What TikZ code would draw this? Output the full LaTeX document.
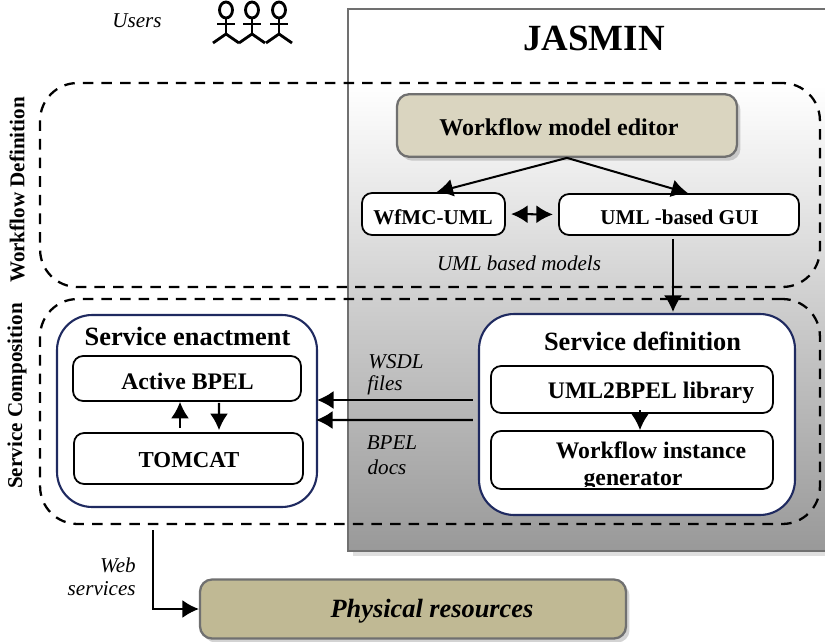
\documentclass[tikz,border=0pt]{standalone}
\usepackage{fontspec}
\setmainfont{Liberation Serif}
\usetikzlibrary{arrows.meta,calc,shadows}
\tikzset{>={Latex[length=3.3mm,width=3.6mm]}}
\definecolor{panelline}{HTML}{707070}
\definecolor{navyline}{HTML}{1F2A60}
\definecolor{editorfill}{HTML}{DAD5C0}
\definecolor{resourcefill}{HTML}{C0B994}
\pgfdeclareverticalshading{panelshade}{100bp}{rgb(0bp)=(0.60,0.60,0.60); rgb(25bp)=(0.60,0.60,0.60); rgb(48bp)=(0.81,0.81,0.81); rgb(58bp)=(0.91,0.91,0.91); rgb(68bp)=(1,1,1); rgb(100bp)=(1,1,1)}
\tikzstyle{panel}=[rectangle,draw=panelline,line width=1.6pt,shade,shading=panelshade,drop shadow={shadow xshift=0.1cm,shadow yshift=-0.1cm,opacity=0.25}]
\tikzstyle{layer}=[rectangle,draw=black,line width=1.3pt,dash pattern=on 6pt off 4.6pt,rounded corners=0.75cm]
\tikzstyle{service}=[rectangle,draw=navyline,fill=white,line width=1.2pt,rounded corners=0.7cm]
\tikzstyle{tool}=[rectangle,draw=panelline,line width=1.3pt,rounded corners=0.24cm,text=black,drop shadow={shadow xshift=0.07cm,shadow yshift=-0.08cm,opacity=0.35}]
\tikzstyle{module}=[rectangle,draw=black,fill=white,line width=1pt,rounded corners=0.2cm]
\tikzstyle{link}=[line width=1.15pt,->]
\tikzstyle{title}=[inner sep=0pt,font=\fontsize{15}{17}\selectfont\bfseries]
\tikzstyle{boxtext}=[inner sep=0pt,font=\fontsize{13.5}{15}\selectfont\bfseries]
\tikzstyle{smalltext}=[inner sep=0pt,font=\fontsize{12}{14}\selectfont\bfseries]
\tikzstyle{note}=[inner sep=0pt,font=\fontsize{12}{14}\selectfont\itshape]
\tikzstyle{side}=[inner sep=0pt,rotate=90,font=\fontsize{12}{14}\selectfont\bfseries]
\tikzstyle{figure}=[line width=1.6pt]
\begin{document}
\begin{tikzpicture}[x=0.02cm,y=-0.02cm]
\useasboundingbox (0,0) rectangle (825,642);

% panel on the right
\node[panel,minimum width=9.6cm,minimum height=10.84cm] (jasminbox) at (588,280) {};
\node[inner sep=0pt,font=\fontsize{21}{23}\selectfont\bfseries] (jasmin) at (594,38) {JASMIN};

% users
\node[note] (users) at (137,21) {Users};
\foreach \i in {226,252,279} {
	\draw[figure] (\i,10) ellipse (6.5 and 8);
	\draw[figure] (\i,18) -- (\i,34);
	\draw[figure] (\i-9,24) -- (\i+9,24);
	\draw[figure] (\i-13,43) -- (\i,34) -- (\i+13,43);
};

% the two dashed layers
\node[layer,minimum width=15.6cm,minimum height=4.08cm] (definition) at (430,185) {};
\node[layer,minimum width=15.6cm,minimum height=4.5cm] (composition) at (430,411.5) {};
\node[side] (definitionlabel) at (17,190) {Workflow Definition};
\node[side] (compositionlabel) at (17,396) {Service Composition};

% workflow definition
\node[tool,fill=editorfill,minimum width=6.8cm,minimum height=1.25cm] (editor) at (567,125.5) {};
\node[inner sep=0pt,font=\fontsize{13.7}{16}\selectfont\bfseries] (editortext) at (559,127) {Workflow model editor};
\node[module,minimum width=2.86cm,minimum height=0.84cm] (wfmc) at (433.5,214) {};
\node[smalltext] (wfmctext) at (433,217) {WfMC-UML};
\node[module,minimum width=4.8cm,minimum height=0.82cm] (gui) at (679,214.5) {};
\node[smalltext] (guitext) at (679.5,217) {UML -based GUI};
\node[note] (models) at (519,263) {UML based models};
\draw[link] (editor.south) -- ([shift={(3,0)}]wfmc.north);
\draw[link] (editor.south) -- ([shift={(9,0)}]gui.north);
\draw[link,<->,shorten <=3pt,shorten >=3pt] (wfmc.east) -- (gui.west);

% service definition
\node[service,minimum width=6.32cm,minimum height=4.02cm] (servdef) at (637,414.5) {};
\node[title] (servdeftitle) at (642.5,341) {Service definition};
\node[module,minimum width=5.64cm,minimum height=0.94cm] (library) at (632,389.5) {};
\node[boxtext] (librarytext) at (651,393) {UML2BPEL library};
\node[module,minimum width=5.64cm,minimum height=1.16cm] (generator) at (632,460) {};
\node[boxtext] (generatortext) at (651,450) {Workflow instance};
\begin{scope}
	\clip (491,431) rectangle (773,486);
	\node[boxtext] (generatortexttwo) at (633,481) {generator};
\end{scope}
\draw[link,shorten <=-2pt] ([shift={(8,0)}]library.south) -- ([shift={(8,0)}]generator.north);
\draw[link] ([shift={(-6,3)}]gui.south) -- ([shift={(36,-1)}]servdef.north);

% service enactment
\node[service,minimum width=5.2cm,minimum height=3.84cm] (enact) at (187,411) {};
\node[title] (enacttitle) at (187.5,336) {Service enactment};
\node[module,minimum width=4.56cm,minimum height=0.9cm] (active) at (187,378.5) {};
\node[boxtext] (activetext) at (187.5,381) {Active BPEL};
\node[module,minimum width=4.58cm,minimum height=1.02cm] (tomcat) at (188.5,458.5) {};
\node[boxtext,font=\fontsize{13}{15}\selectfont\bfseries] (tomcattext) at (189,460.5) {TOMCAT};
\draw[link] ([shift={(-8.5,-4)}]tomcat.north) -- ([shift={(-7,0)}]active.south);
\draw[link] ([shift={(32,1)}]active.south) -- ([shift={(30.5,-2)}]tomcat.north);

% between the two services
\draw[link] ([shift={(-5,-14.5)}]servdef.west) -- ([shift={(-1,-11)}]enact.east);
\draw[link] ([shift={(-5,5.5)}]servdef.west) -- ([shift={(-2,9)}]enact.east);
\node[note] (wsdl) at (396,362) {WSDL};
\node[note] (files) at (385,385.5) {files};
\node[note] (bpel) at (392,443) {BPEL};
\node[note] (docs) at (387,467) {docs};

% resources
\node[tool,fill=resourcefill,minimum width=8.52cm,minimum height=1.18cm] (phys) at (413,609) {};
\node[inner sep=0pt,font=\fontsize{15}{17}\selectfont\bfseries\itshape] (physlabel) at (432,611) {Physical resources};
\coordinate (webtop) at (153,530);
\draw[link] (webtop) |- (phys.west);
\node[note,anchor=east] (web) at (136,565) {Web};
\node[note,anchor=east] (webservices) at (136,589) {services};
\end{tikzpicture}
\end{document}
